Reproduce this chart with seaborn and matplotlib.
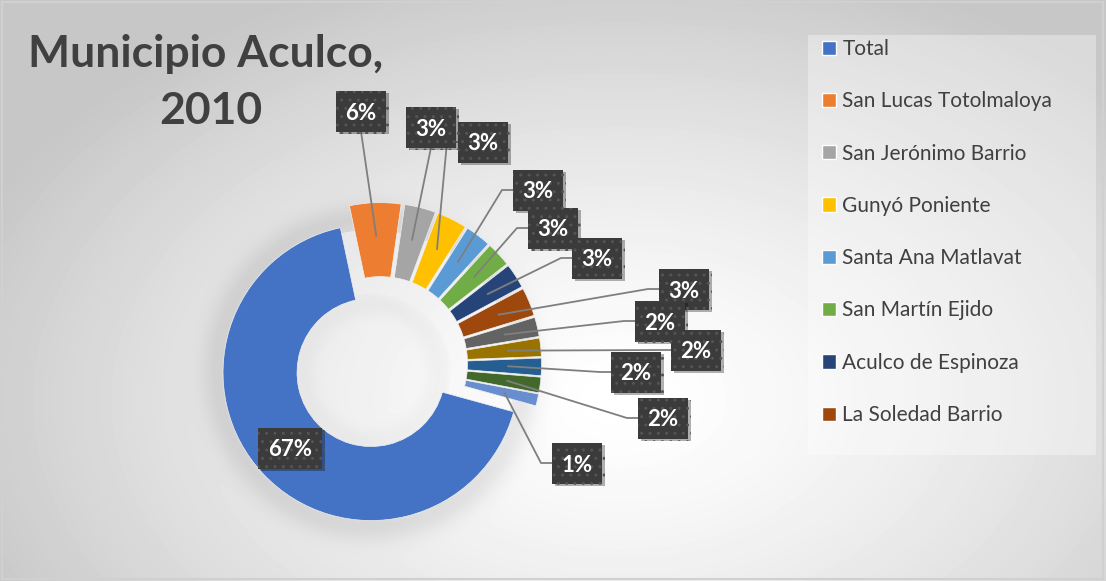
import numpy as np
import seaborn as sns
import matplotlib
matplotlib.use('Agg')
import matplotlib.pyplot as plt
import matplotlib.patheffects as pe
from matplotlib.patches import Patch, Rectangle

# datos: localidades del municipio de Aculco, 2010 (porcentaje de poblacion)
localidades = ['Total', 'San Lucas Totolmaloya', 'San Jerónimo Barrio', 'Gunyó Poniente',
               'Santa Ana Matlavat', 'San Martín Ejido', 'Aculco de Espinoza', 'La Soledad Barrio',
               'San Pedro Denxhi', 'Santiago Oxthoc', 'Arroyo Zarco', 'San Joaquín Coscomatepec', 'Ñadó']
porcentajes = [67.4, 5.6, 3.4, 3.3, 2.8, 2.7, 2.7, 3.1, 2.1, 2.0, 1.9, 1.7, 1.3]
etiquetas = [f'{p:.0f}%' for p in porcentajes]
colores = ['#4472C4', '#ED7D31', '#A5A5A5', '#FFC000', '#5B9BD5', '#70AD47', '#264478',
           '#9E480E', '#636363', '#997300', '#255E91', '#43682B', '#698ED0']

# layout (pixels of the 1106x581 picture)
W, H = 1106, 581
CX, CY, R = 380.5, 363.6, 148
label_px = [(290, 448), (361, 111), (431, 127), (483, 142), (538, 190), (553, 228), (597, 258),
            (684, 289), (660, 321), (696, 350), (636, 372), (663, 418), (577, 463)]
label_side = [None, 'bottom', 'bottom', 'left', 'left', 'left', 'left',
              'left', 'left', 'left', 'left', 'left', 'left']

sns.set_theme(style='white')
plt.rcParams['font.family'] = ['Lato', 'DejaVu Sans']

fig = plt.figure(figsize=(W / 100, H / 100), dpi=100)
ax = fig.add_axes([0, 0, 1, 1])
ax.set_facecolor('none')


def px2d(px, py):
    return ((px - CX) / R, (CY - py) / R)


x0, y1 = px2d(0, 0)
x1, y0 = px2d(W, H)

# background gradient with soft halo round the donut
yy, xx = np.mgrid[0:H, 0:W]
d = np.sqrt(((xx - 620) / 700.0) ** 2 + ((yy - 400) / 450.0) ** 2)
bg = 1 - 0.22 * np.clip(d, 0, 1) ** 1.4
rr = np.sqrt((xx - 371) ** 2 + (yy - 372.5) ** 2)
bg -= 0.08 * np.exp(-((rr - R - 4) / 18.0) ** 2) * (rr > R - 5)
bg -= 0.025 * np.exp(-((rr - R / 2 + 6) / 12.0) ** 2) * (rr < R / 2 + 5)
ax.imshow(bg, cmap='gray', vmin=0, vmax=1, extent=(x0, x1, y0, y1), aspect='auto',
          zorder=0, interpolation='bilinear')

explode = [0.088] * len(porcentajes)
wedges, _ = ax.pie(porcentajes, colors=sns.color_palette(colores), explode=explode,
                   startangle=-15.4, counterclock=False, radius=1,
                   wedgeprops=dict(width=0.5, edgecolor='#f0f0f0', linewidth=0.5))
for w in wedges:
    w.set_zorder(2)

ax.set_xlim(x0, x1)
ax.set_ylim(y0, y1)
ax.set_aspect('auto')
ax.axis('off')

# data labels: dark boxes with leader lines
bh = 41 / R
for i, w in enumerate(wedges):
    lx, ly = px2d(*label_px[i])
    bw = (22 + 14 * len(etiquetas[i])) / R
    box = Rectangle((lx - bw / 2, ly - bh / 2), bw, bh, fc='#3b3b3b', ec='#545454', lw=0,
                    hatch='..', zorder=5 + 2 * i)
    box.set_path_effects([pe.withSimplePatchShadow(offset=(2, -2), shadow_rgbFace='black',
                                                   alpha=0.3)])
    ax.add_patch(box)
    ax.text(lx, ly, etiquetas[i], ha='center', va='center_baseline', color='white',
            fontsize=16, fontweight='bold', zorder=6 + 2 * i)
    side = label_side[i]
    if side is None:
        continue
    ang = np.deg2rad((w.theta1 + w.theta2) / 2)
    ax0 = w.center[0] + 0.77 * np.cos(ang)
    ay0 = w.center[1] + 0.77 * np.sin(ang)
    if side == 'bottom':
        xs = [ax0, lx]
        ys = [ay0, ly - bh / 2]
    else:
        ex = lx - bw / 2 - 11 / R
        xs = [ax0, ex, lx - bw / 2]
        ys = [ay0, ly, ly]
    ax.plot(xs, ys, color='#7f7f7f', lw=1.3, zorder=4, solid_capstyle='butt')

# title, two lines
fig.text(206 / W, 1 - 67 / H, 'Municipio Aculco,', ha='center', va='baseline',
         fontsize=32, fontweight='bold', color='#404040')
fig.text(211 / W, 1 - 124 / H, '2010', ha='center', va='baseline',
         fontsize=32, fontweight='bold', color='#404040')

# legend (Excel shows only the first 8 entries)
fig.patches.append(Rectangle((808 / W, 1 - 455 / H), 288 / W, 420 / H, transform=fig.transFigure,
                             fc='white', alpha=0.35, lw=0, zorder=1))
handles = [Patch(facecolor=colores[i]) for i in range(8)]
fig.legend(handles, localidades[:8], loc='upper left', bbox_to_anchor=(822 / W, 1 - 39 / H),
           frameon=False, fontsize=15, labelspacing=1.55, handlelength=0.68, handleheight=0.68,
           handletextpad=0.3, borderpad=0, borderaxespad=0, labelcolor='#404040')

# chart border
fig.patches.append(Rectangle((0.002, 0.003), 0.995, 0.993, transform=fig.transFigure,
                             fill=False, ec='#d0d0d0', lw=1.5))

fig.savefig('out.png', dpi=100)
